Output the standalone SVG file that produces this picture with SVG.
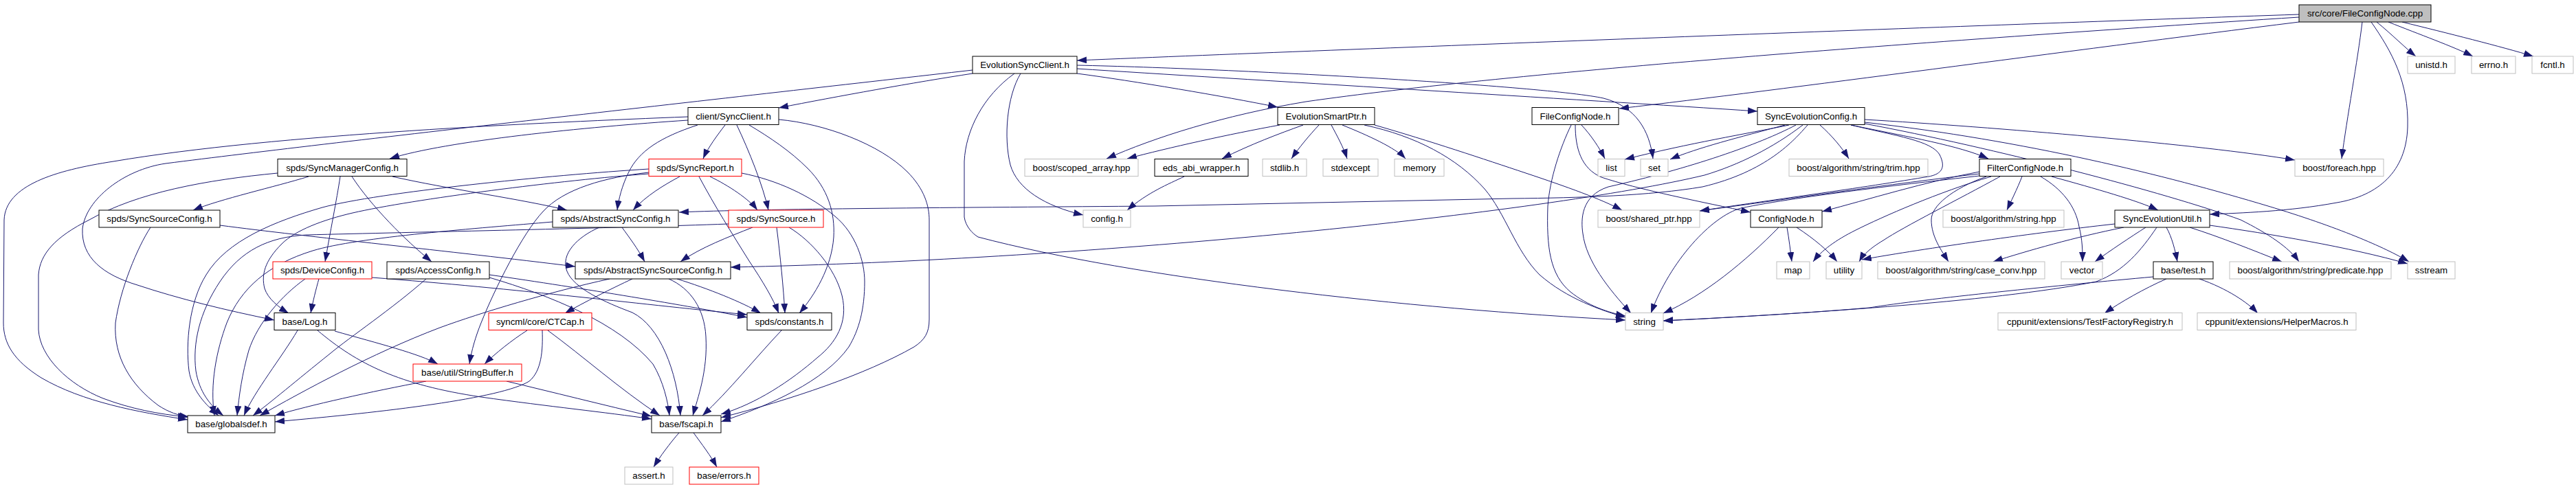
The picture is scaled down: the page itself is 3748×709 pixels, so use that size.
<svg xmlns="http://www.w3.org/2000/svg" width="3748" height="709" viewBox="0 0 3748 709">
<defs>
<marker id="a" markerUnits="userSpaceOnUse" markerWidth="14" markerHeight="10" refX="13.3" refY="4.7" orient="auto" viewBox="0 0 13.3 9.4">
<path d="M0,0 L13.3,4.7 L0,9.4 z" fill="#191970"/>
</marker>
</defs>
<style>
rect{fill:#fff;stroke:#000;stroke-width:1}
.g rect{stroke:#bfbfbf}
.r rect{stroke:#f00}
.root rect{fill:#bfbfbf;stroke:#000}
text{font-family:"Liberation Sans",Arial,Helvetica,sans-serif;font-size:13.33px;text-anchor:middle;fill:#000}
#edges path{fill:none;stroke:#191970;stroke-width:1;marker-end:url(#a)}
</style>
<rect x="0" y="0" width="3748" height="709" style="fill:#fff;stroke:none"/>
<g id="edges">
<path d="M3345,21 C2900,36 2000,70 1567,88"/>
<path d="M3345,25 C2800,60 2200,105 1900,148 C1780,168 1680,200 1610,231"/>
<path d="M3345,32 C3000,75 2600,130 2356,158"/>
<path d="M3437,32 C3430,90 3415,170 3407,231"/>
<path d="M3450,32 C3480,75 3505,120 3503,185 C3501,250 3460,285 3400,295 C3330,308 3260,310 3215,312"/>
<path d="M3458,32 C3480,50 3500,70 3515,82"/>
<path d="M3475,32 C3520,50 3570,68 3598,82"/>
<path d="M3495,32 C3560,48 3640,68 3686,82"/>
<path d="M1415,107 C1330,120 1220,140 1133,157"/>
<path d="M1415,102 C1100,138 500,205 241,238 C180,247 125,290 120,333 C118,375 150,400 200,415 C260,435 330,452 399,466"/>
<path d="M1567,107 C1650,118 1780,140 1859,156"/>
<path d="M1567,100 C1800,115 2300,145 2557,162"/>
<path d="M1567,95 C1800,100 2250,125 2333,143 C2380,155 2400,190 2405,231"/>
<path d="M1485,107 C1465,140 1460,200 1470,240 C1480,275 1520,300 1576,313"/>
<path d="M1476,107 C1430,140 1405,190 1403,235 L1403,316 C1405,330 1415,340 1423,345 C1650,405 2050,450 2365,466"/>
<path d="M1001,170 C800,178 400,195 165,235 C80,248 8,270 6,320 L5,470 C5,500 20,525 60,550 C120,585 200,600 273,611"/>
<path d="M1001,175 C850,185 650,205 567,231"/>
<path d="M1015,182 C960,200 930,220 915,250 C905,270 900,290 898,306"/>
<path d="M1055,182 C1045,195 1030,215 1023,231"/>
<path d="M1072,182 C1090,220 1110,270 1118,306"/>
<path d="M1090,182 C1120,200 1150,220 1175,245 C1205,275 1215,310 1213,345 C1210,390 1185,430 1163,456"/>
<path d="M1133,174 C1200,180 1280,210 1320,250 C1345,275 1352,300 1352,320 L1352,465 C1352,485 1345,495 1330,505 C1260,545 1150,582 1049,608"/>
<path d="M1985,182 C2060,198 2120,230 2160,275 C2190,310 2205,365 2240,400 C2280,435 2330,452 2365,462"/>
<path d="M1896,182 C1860,195 1820,210 1778,231"/>
<path d="M1919,182 C1905,197 1890,215 1879,231"/>
<path d="M1937,182 C1945,197 1955,215 1960,231"/>
<path d="M1953,182 C1990,197 2030,215 2045,231"/>
<path d="M1862,182 C1790,195 1700,215 1640,231"/>
<path d="M2000,182 C2080,205 2160,232 2220,252 C2280,272 2330,290 2360,306"/>
<path d="M2301,182 C2315,197 2327,215 2335,231"/>
<path d="M2286,182 C2270,215 2255,260 2252,300 C2250,360 2255,400 2285,425 C2310,445 2340,455 2365,460"/>
<path d="M2292,182 C2292,215 2300,245 2330,258 C2380,275 2480,295 2547,309"/>
<path d="M2603,182 C2540,195 2460,208 2364,232"/>
<path d="M2597,182 C2530,200 2470,215 2430,232"/>
<path d="M2613,182 C2560,210 2460,245 2340,272 C2300,285 2300,320 2303,340 C2308,380 2340,420 2373,456"/>
<path d="M2623,182 C2580,215 2530,240 2480,255 C2250,310 1600,378 1063,389"/>
<path d="M2630,182 C2610,205 2570,250 2477,272 C2400,285 2300,288 2200,289 L1680,300 C1400,302 1100,304 988,309"/>
<path d="M2648,182 C2665,197 2680,215 2690,231"/>
<path d="M2693,182 C2780,200 2850,212 2893,231"/>
<path d="M2713,174 C2900,185 3200,210 3339,233"/>
<path d="M2713,178 C2950,205 3150,255 3300,300 C3400,330 3470,360 3505,381"/>
<path d="M2713,180 C2900,215 3150,280 3260,320 C3300,340 3330,360 3345,381"/>
<path d="M2693,182 C2760,198 2810,205 2822,225 C2832,245 2825,255 2800,258 C2700,275 2550,295 2473,307"/>
<path d="M449,257 C400,272 320,290 281,306"/>
<path d="M495,257 C490,290 480,340 473,381"/>
<path d="M512,257 C540,300 590,350 628,381"/>
<path d="M571,257 C650,275 760,290 825,306"/>
<path d="M404,252 C300,262 200,280 130,320 C80,345 58,370 56,400 L56,480 C58,520 100,560 150,580 C190,595 230,603 273,607"/>
<path d="M944,251 C880,258 820,275 790,308 C760,340 720,420 700,470 C692,490 686,510 683,530"/>
<path d="M944,246 C800,255 550,280 469,302 C400,322 330,350 300,400 C275,440 270,500 275,540 C280,570 300,590 318,605"/>
<path d="M944,253 C820,262 600,290 513,310 C470,320 430,335 410,355 C385,380 380,400 385,420 C390,435 405,447 420,456"/>
<path d="M989,257 C965,270 940,285 921,306"/>
<path d="M1033,257 C1060,270 1090,290 1102,306"/>
<path d="M1017,257 C1040,300 1065,340 1090,380 C1110,410 1125,435 1133,456"/>
<path d="M1079,252 C1130,262 1180,285 1215,315 C1245,340 1258,380 1258,410 C1258,450 1250,480 1235,505 C1200,555 1120,590 1049,614"/>
<path d="M1723,257 C1700,268 1670,280 1640,306"/>
<path d="M2880,250 C2800,265 2720,290 2651,308"/>
<path d="M2880,253 C2750,268 2600,290 2473,307"/>
<path d="M2880,256 C2800,265 2620,285 2533,303 C2490,315 2430,380 2402,456"/>
<path d="M2897,257 C2820,280 2740,315 2700,335 C2670,350 2650,365 2638,381"/>
<path d="M2910,257 C2850,290 2770,330 2740,350 C2720,362 2710,372 2705,381"/>
<path d="M2890,257 C2840,275 2810,300 2810,320 C2810,345 2825,365 2835,381"/>
<path d="M2942,257 C2935,275 2925,295 2920,306"/>
<path d="M2969,257 C3000,275 3020,300 3025,330 C3030,350 3030,365 3030,381"/>
<path d="M2985,257 C3050,275 3110,292 3140,306"/>
<path d="M320,328 C450,345 650,365 837,388"/>
<path d="M219,331 C200,360 175,420 168,470 C165,520 190,560 230,590 C245,600 260,605 275,607"/>
<path d="M804,323 C700,332 520,345 455,365 C390,385 350,420 330,470 C315,510 305,560 312,605"/>
<path d="M872,331 C840,345 815,370 825,395 C835,420 880,440 920,455 C960,475 985,540 990,605"/>
<path d="M905,331 C915,345 928,362 938,381"/>
<path d="M1095,331 C1060,345 1020,360 990,381"/>
<path d="M1130,331 C1135,370 1140,420 1142,456"/>
<path d="M1148,331 C1180,350 1215,390 1225,430 C1235,470 1215,500 1190,520 C1150,555 1100,588 1049,603"/>
<path d="M1060,326 C900,332 600,338 446,342 C390,345 350,365 320,410 C290,455 280,500 285,540 C290,570 305,590 325,605"/>
<path d="M2600,331 C2603,348 2605,365 2607,381"/>
<path d="M2614,331 C2640,348 2660,365 2673,381"/>
<path d="M2588,331 C2540,380 2480,430 2420,456"/>
<path d="M3138,331 C3115,365 3090,395 3050,410 C2900,440 2600,458 2420,467"/>
<path d="M3077,326 C2950,340 2780,365 2709,378"/>
<path d="M3090,331 C3020,345 2950,365 2900,381"/>
<path d="M3122,331 C3100,345 3070,365 3048,381"/>
<path d="M3152,331 C3160,345 3165,365 3168,381"/>
<path d="M3215,328 C3300,340 3420,360 3503,384"/>
<path d="M3186,331 C3230,345 3280,365 3320,381"/>
<path d="M464,406 C460,420 455,440 452,456"/>
<path d="M444,406 C410,430 375,470 362,510 C352,545 348,575 345,605"/>
<path d="M541,404 C750,420 950,445 1087,458"/>
<path d="M620,406 C570,450 510,490 480,515 C430,555 395,585 368,605"/>
<path d="M712,400 C850,420 1000,445 1087,462"/>
<path d="M712,404 C800,430 900,470 950,530 C965,555 972,585 974,605"/>
<path d="M920,406 C890,420 850,440 822,456"/>
<path d="M985,406 C1030,420 1080,440 1107,456"/>
<path d="M973,406 C1005,420 1025,450 1027,490 C1030,540 1015,580 1008,605"/>
<path d="M887,406 C800,425 700,455 640,477 C540,515 440,570 378,605"/>
<path d="M3152,406 C3120,420 3085,440 3062,456"/>
<path d="M3200,406 C3240,420 3270,440 3285,456"/>
<path d="M3133,403 C3000,415 2800,435 2720,448 C2600,458 2500,463 2420,467"/>
<path d="M433,481 C410,520 370,570 355,605"/>
<path d="M487,482 C550,500 610,515 637,530"/>
<path d="M462,481 C520,530 580,560 700,578 C800,592 880,600 948,610"/>
<path d="M767,481 C745,495 720,515 705,530"/>
<path d="M789,481 C790,510 788,540 770,555 C730,580 560,600 400,614"/>
<path d="M797,481 C850,520 900,565 960,605"/>
<path d="M1137,481 C1100,520 1060,570 1022,605"/>
<path d="M620,555 C540,570 450,590 400,605"/>
<path d="M737,555 C800,570 880,590 948,606"/>
<path d="M988,630 C975,645 960,665 951,680"/>
<path d="M1009,630 C1020,645 1035,665 1043,680"/>
</g>
<g id="n1" class="root"><rect x="3345" y="7" width="192" height="25"/><text x="3441" y="24.3">src/core/FileConfigNode.cpp</text></g>
<g id="n2"><rect x="1415" y="82" width="152" height="25"/><text x="1491" y="99.3">EvolutionSyncClient.h</text></g>
<g id="n3" class="g"><rect x="3503" y="82" width="69" height="25"/><text x="3537.5" y="99.3">unistd.h</text></g>
<g id="n4" class="g"><rect x="3596" y="82" width="64" height="25"/><text x="3628" y="99.3">errno.h</text></g>
<g id="n5" class="g"><rect x="3684" y="82" width="60" height="25"/><text x="3714" y="99.3">fcntl.h</text></g>
<g id="n6"><rect x="1001" y="156.5" width="132" height="25"/><text x="1067" y="173.8">client/SyncClient.h</text></g>
<g id="n7"><rect x="1859" y="156.5" width="141" height="25"/><text x="1929.5" y="173.8">EvolutionSmartPtr.h</text></g>
<g id="n8"><rect x="2229" y="156.5" width="126" height="25"/><text x="2292" y="173.8">FileConfigNode.h</text></g>
<g id="n9"><rect x="2557" y="156.5" width="156" height="25"/><text x="2635" y="173.8">SyncEvolutionConfig.h</text></g>
<g id="n10"><rect x="404" y="231.5" width="188" height="25"/><text x="498" y="248.8">spds/SyncManagerConfig.h</text></g>
<g id="n11" class="r"><rect x="944" y="231.5" width="135" height="25"/><text x="1011.5" y="248.8">spds/SyncReport.h</text></g>
<g id="n12"><rect x="1680" y="231.5" width="136" height="25"/><text x="1748" y="248.8">eds_abi_wrapper.h</text></g>
<g id="n13" class="g"><rect x="1837" y="231.5" width="64" height="25"/><text x="1869" y="248.8">stdlib.h</text></g>
<g id="n14" class="g"><rect x="1925" y="231.5" width="80" height="25"/><text x="1965" y="248.8">stdexcept</text></g>
<g id="n15" class="g"><rect x="2029" y="231.5" width="72" height="25"/><text x="2065" y="248.8">memory</text></g>
<g id="n16" class="g"><rect x="1491" y="231.5" width="165" height="25"/><text x="1573.5" y="248.8">boost/scoped_array.hpp</text></g>
<g id="n17" class="g"><rect x="2325" y="231.5" width="39" height="25"/><text x="2344.5" y="248.8">list</text></g>
<g id="n18" class="g"><rect x="2387" y="231.5" width="40" height="25"/><text x="2407" y="248.8">set</text></g>
<g id="n19" class="g"><rect x="2603" y="231.5" width="202" height="25"/><text x="2704" y="248.8">boost/algorithm/string/trim.hpp</text></g>
<g id="n20"><rect x="2880" y="231.5" width="133" height="25"/><text x="2946.5" y="248.8">FilterConfigNode.h</text></g>
<g id="n21" class="g"><rect x="3339" y="231.5" width="129" height="25"/><text x="3403.5" y="248.8">boost/foreach.hpp</text></g>
<g id="n22"><rect x="144" y="306" width="176" height="25"/><text x="232" y="323.3">spds/SyncSourceConfig.h</text></g>
<g id="n23"><rect x="804" y="306" width="183" height="25"/><text x="895.5" y="323.3">spds/AbstractSyncConfig.h</text></g>
<g id="n24" class="r"><rect x="1060" y="306" width="138" height="25"/><text x="1129" y="323.3">spds/SyncSource.h</text></g>
<g id="n25" class="g"><rect x="1576" y="306" width="69" height="25"/><text x="1610.5" y="323.3">config.h</text></g>
<g id="n26" class="g"><rect x="2325" y="306" width="148" height="25"/><text x="2399" y="323.3">boost/shared_ptr.hpp</text></g>
<g id="n27"><rect x="2547" y="306" width="104" height="25"/><text x="2599" y="323.3">ConfigNode.h</text></g>
<g id="n28" class="g"><rect x="2827" y="306" width="176" height="25"/><text x="2915" y="323.3">boost/algorithm/string.hpp</text></g>
<g id="n29"><rect x="3077" y="306" width="138" height="25"/><text x="3146" y="323.3">SyncEvolutionUtil.h</text></g>
<g id="n30" class="r"><rect x="397" y="381" width="144" height="25"/><text x="469" y="398.3">spds/DeviceConfig.h</text></g>
<g id="n31"><rect x="563" y="381" width="149" height="25"/><text x="637.5" y="398.3">spds/AccessConfig.h</text></g>
<g id="n32"><rect x="837" y="381" width="226" height="25"/><text x="950" y="398.3">spds/AbstractSyncSourceConfig.h</text></g>
<g id="n33" class="g"><rect x="2585" y="381" width="48" height="25"/><text x="2609" y="398.3">map</text></g>
<g id="n34" class="g"><rect x="2657" y="381" width="52" height="25"/><text x="2683" y="398.3">utility</text></g>
<g id="n35" class="g"><rect x="2732" y="381" width="243" height="25"/><text x="2853.5" y="398.3">boost/algorithm/string/case_conv.hpp</text></g>
<g id="n36" class="g"><rect x="2999" y="381" width="60" height="25"/><text x="3029" y="398.3">vector</text></g>
<g id="n37"><rect x="3133" y="381" width="87" height="25"/><text x="3176.5" y="398.3">base/test.h</text></g>
<g id="n38" class="g"><rect x="3244" y="381" width="235" height="25"/><text x="3361.5" y="398.3">boost/algorithm/string/predicate.hpp</text></g>
<g id="n39" class="g"><rect x="3503" y="381" width="69" height="25"/><text x="3537.5" y="398.3">sstream</text></g>
<g id="n40"><rect x="399" y="455.5" width="89" height="25"/><text x="443.5" y="472.8">base/Log.h</text></g>
<g id="n41" class="r"><rect x="711" y="455.5" width="150" height="25"/><text x="786" y="472.8">syncml/core/CTCap.h</text></g>
<g id="n42"><rect x="1087" y="455.5" width="123" height="25"/><text x="1148.5" y="472.8">spds/constants.h</text></g>
<g id="n43" class="g"><rect x="2365" y="455.5" width="55" height="25"/><text x="2392.5" y="472.8">string</text></g>
<g id="n44" class="g"><rect x="2907" y="455.5" width="268" height="25"/><text x="3041" y="472.8">cppunit/extensions/TestFactoryRegistry.h</text></g>
<g id="n45" class="g"><rect x="3197" y="455.5" width="231" height="25"/><text x="3312.5" y="472.8">cppunit/extensions/HelperMacros.h</text></g>
<g id="n46" class="r"><rect x="601" y="530" width="158" height="25"/><text x="680" y="547.3">base/util/StringBuffer.h</text></g>
<g id="n47"><rect x="273" y="605" width="127" height="25"/><text x="336.5" y="622.3">base/globalsdef.h</text></g>
<g id="n48"><rect x="948" y="605" width="101" height="25"/><text x="998.5" y="622.3">base/fscapi.h</text></g>
<g id="n49" class="g"><rect x="909" y="680" width="70" height="25"/><text x="944" y="697.3">assert.h</text></g>
<g id="n50" class="r"><rect x="1003" y="680" width="101" height="25"/><text x="1053.5" y="697.3">base/errors.h</text></g>
</svg>
